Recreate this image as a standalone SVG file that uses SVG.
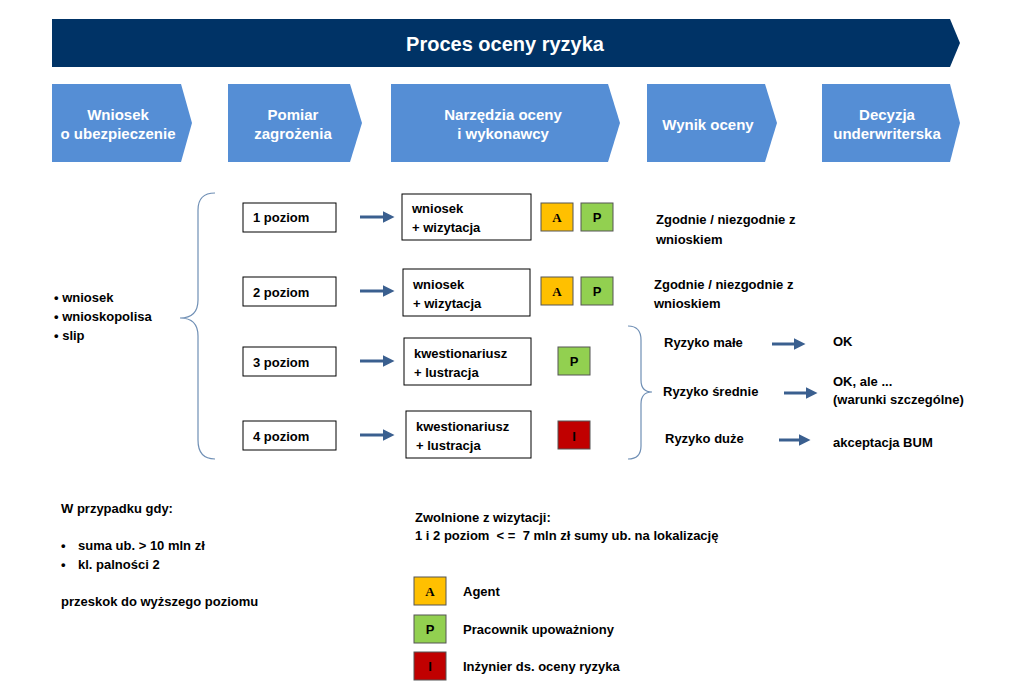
<svg xmlns="http://www.w3.org/2000/svg" width="1024" height="687" viewBox="0 0 1024 687">
<style>
text{font-family:"Liberation Sans",Arial,sans-serif;font-weight:bold;font-size:13px;fill:#000}
.h{fill:#fff;font-size:15px;text-anchor:middle}
.chev{fill:#558ed5}
.box{fill:#fff;stroke:#000;stroke-width:1}
.br{fill:none;stroke:#6f8fb5;stroke-width:1.2}
.ar{stroke:#3a5f8f;stroke-width:3;fill:none;marker-end:url(#ah)}
.sq{stroke:#555;stroke-width:1}
.c{text-anchor:middle}
</style>
<defs><marker id="ah" markerWidth="4" markerHeight="4" refX="2.5" refY="2" orient="auto"><path d="M0,0 L4,2 L0,4 z" fill="#3a5f8f"/></marker></defs>
<rect width="1024" height="687" fill="#fff"/>
<g id="header"><path d="M52,19 H950 L960,43 L950,67 H52 z" fill="#003366"/><text x="505" y="51" class="h" style="font-size:20px">Proces oceny ryzyka</text></g>
<g id="s1"><path class="chev" d="M52,84 H181 L192,123 L181,162 H52 z"/><text class="h" x="118" y="120">Wniosek</text><text class="h" x="118" y="139">o ubezpieczenie</text></g>
<g id="s2"><path class="chev" d="M228,84 H350 L362,123 L350,162 H228 z"/><text class="h" x="293" y="120">Pomiar</text><text class="h" x="293" y="139">zagrożenia</text></g>
<g id="s3"><path class="chev" d="M391,84 H608 L620,123 L608,162 H391 z"/><text class="h" x="503" y="120">Narzędzia oceny</text><text class="h" x="503" y="139">i wykonawcy</text></g>
<g id="s4"><path class="chev" d="M647,84 H765 L777,123 L765,162 H647 z"/><text class="h" x="708" y="130">Wynik oceny</text></g>
<g id="s5"><path class="chev" d="M822,84 H950 L960,123 L950,162 H822 z"/><text class="h" x="887" y="120">Decyzja</text><text class="h" x="887" y="139">underwriterska</text></g>
<g id="input"><text x="54" y="302">• wniosek</text><text x="54" y="321">• wnioskopolisa</text><text x="54" y="340">• slip</text></g>
<g id="brackets">
<path class="br" d="M215,193 Q198,193 198,210 V300 Q198,318 180,318 Q198,318 198,336 V440 Q198,459 215,459"/>
<path class="br" d="M628,326 Q641,326 641,340 V380 Q641,392 652,392 Q641,392 641,404 V446 Q641,459 628,459"/>
</g>
<g id="levels">
<rect class="box" x="243" y="203" width="93" height="29"/><text x="253" y="222">1 poziom</text>
<rect class="box" x="243" y="277" width="93" height="29"/><text x="253" y="297">2 poziom</text>
<rect class="box" x="243" y="347" width="93" height="29"/><text x="253" y="367">3 poziom</text>
<rect class="box" x="243" y="421" width="93" height="29"/><text x="253" y="441">4 poziom</text>
</g>
<g id="tools">
<rect class="box" x="402" y="194" width="129" height="46"/><text x="412" y="213">wniosek</text><text x="412" y="232">+ wizytacja</text>
<rect class="box" x="403" y="269" width="127" height="47"/><text x="413" y="289">wniosek</text><text x="413" y="308">+ wizytacja</text>
<rect class="box" x="404" y="338" width="127" height="47"/><text x="414" y="358">kwestionariusz</text><text x="414" y="377">+ lustracja</text>
<rect class="box" x="406" y="411" width="125" height="47"/><text x="416" y="431">kwestionariusz</text><text x="416" y="450">+ lustracja</text>
</g>
<g id="badges">
<rect class="sq" x="541" y="203" width="32" height="28" fill="#ffc000"/><text class="c" x="557" y="222" style="font-family:'Liberation Serif',serif">A</text>
<rect class="sq" x="581" y="203" width="32" height="28" fill="#92d050"/><text class="c" x="597" y="222">P</text>
<rect class="sq" x="541" y="277" width="32" height="28" fill="#ffc000"/><text class="c" x="557" y="296" style="font-family:'Liberation Serif',serif">A</text>
<rect class="sq" x="581" y="277" width="32" height="28" fill="#92d050"/><text class="c" x="597" y="296">P</text>
<rect class="sq" x="558" y="347" width="32" height="28" fill="#92d050"/><text class="c" x="574" y="366">P</text>
<rect class="sq" x="558" y="421" width="32" height="28" fill="#c00000"/><text class="c" x="574" y="441">I</text>
</g>
<g id="connectors">
<path class="ar" d="M360,217 H390"/><path class="ar" d="M360,291 H390"/><path class="ar" d="M360,361 H390"/><path class="ar" d="M360,435 H390"/>
<path class="ar" d="M772,344 H801"/><path class="ar" d="M784,393 H813"/><path class="ar" d="M779,440 H806"/>
</g>
<g id="results">
<text x="656" y="224">Zgodnie / niezgodnie z</text><text x="656" y="244">wnioskiem</text>
<text x="654" y="289">Zgodnie / niezgodnie z</text><text x="654" y="308">wnioskiem</text>
<text x="664" y="347">Ryzyko małe</text><text x="663" y="396">Ryzyko średnie</text><text x="665" y="443">Ryzyko duże</text>
<text x="833" y="346">OK</text><text x="833" y="386">OK, ale ...</text><text x="833" y="404">(warunki szczególne)</text>
<text x="833" y="447">akceptacja BUM</text>
</g>
<g id="notes">
<text x="61" y="513">W przypadku gdy:</text>
<text x="61" y="550">•</text><text x="78" y="550">suma ub. &gt; 10 mln zł</text>
<text x="61" y="569">•</text><text x="78" y="569">kl. palności 2</text>
<text x="61" y="606">przeskok do wyższego poziomu</text>
<text x="415" y="522">Zwolnione z wizytacji:</text>
<text x="415" y="540" xml:space="preserve">1 i 2 poziom  &lt; =  7 mln zł sumy ub. na lokalizację</text>
</g>
<g id="legend">
<rect class="sq" x="414" y="577" width="32" height="28" fill="#ffc000"/><text class="c" x="430" y="596" style="font-family:'Liberation Serif',serif">A</text><text x="463" y="596">Agent</text>
<rect class="sq" x="414" y="615" width="32" height="28" fill="#92d050"/><text class="c" x="430" y="634">P</text><text x="463" y="634">Pracownik upoważniony</text>
<rect class="sq" x="414" y="652" width="32" height="28" fill="#c00000"/><text class="c" x="430" y="671">I</text><text x="463" y="671">Inżynier ds. oceny ryzyka</text>
</g>
</svg>
